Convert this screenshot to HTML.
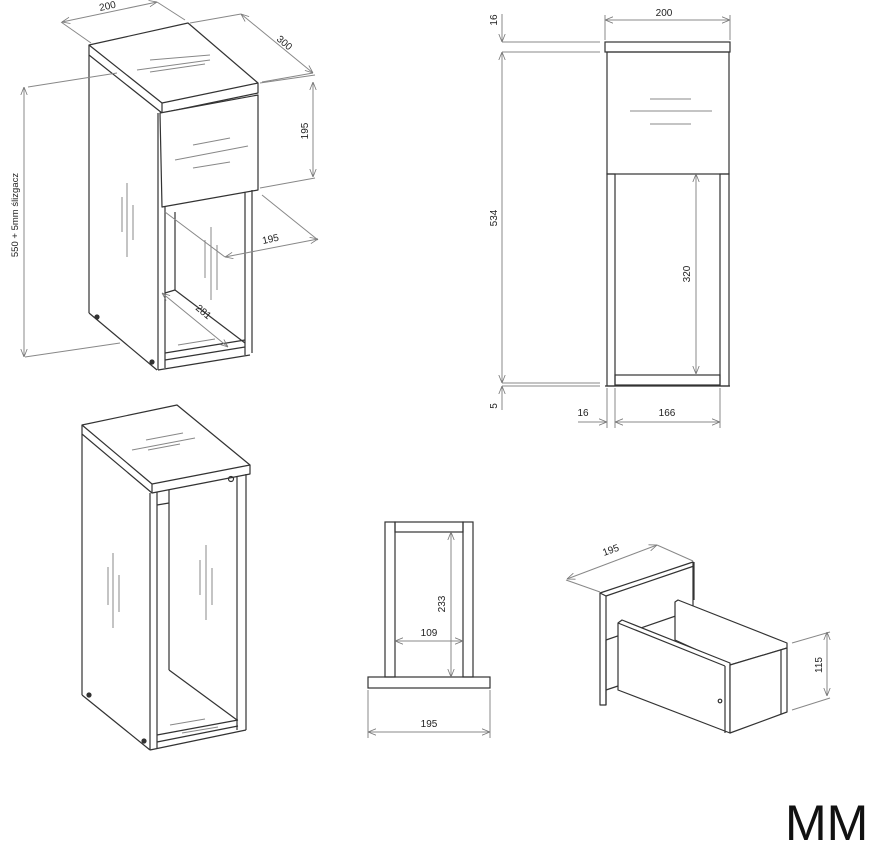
<!DOCTYPE html>
<html><head><meta charset="utf-8"><style>
html,body{margin:0;padding:0;background:#fff;}
svg{display:block}
text{font-family:"Liberation Sans","DejaVu Sans",sans-serif;font-size:10px;fill:#222}
</style></head><body>
<svg width="882" height="855" viewBox="0 0 882 855" xmlns="http://www.w3.org/2000/svg">
<defs>
<marker id="a" viewBox="0 0 10 10" refX="10" refY="5" markerWidth="8" markerHeight="8" orient="auto-start-reverse" markerUnits="userSpaceOnUse"><path d="M0,1 L10,5 L0,9" fill="none" stroke="#777" stroke-width="1"/></marker>
</defs>
<g fill="none" stroke="#333" stroke-width="1.2" stroke-linejoin="round">
<!-- ===== Top-left iso ===== -->
<polygon points="89,45 188,23 258,83 162,103" fill="#fff"/>
<polyline points="89,45 89,55 162,113 258,93 258,83"/>
<line x1="162" y1="103" x2="162" y2="113"/>
<polygon points="160,113 258,95 258,190 162,207" fill="#fff"/>
<line x1="89" y1="55" x2="89" y2="313"/>
<line x1="89" y1="313" x2="157" y2="370"/>
<line x1="158" y1="113" x2="158" y2="370"/>
<line x1="165" y1="207" x2="165" y2="368"/>
<line x1="158" y1="370" x2="250" y2="355"/>
<line x1="165" y1="360" x2="245" y2="347"/>
<line x1="165" y1="353" x2="245" y2="340"/>
<line x1="245" y1="192" x2="245" y2="355"/>
<line x1="252" y1="190" x2="252" y2="353"/>
<line x1="175" y1="212" x2="175" y2="290"/>
<line x1="175" y1="290" x2="245" y2="343"/>
<line x1="165" y1="293" x2="175" y2="290"/>
<circle cx="97" cy="317" r="2" fill="#333"/>
<circle cx="152" cy="362" r="2" fill="#333"/>
</g>
<g stroke="#888" stroke-width="1" fill="none">
<line x1="150" y1="60" x2="210" y2="55"/><line x1="137" y1="70" x2="210" y2="60"/><line x1="150" y1="72" x2="205" y2="64"/>
<line x1="193" y1="145" x2="230" y2="138"/><line x1="175" y1="160" x2="248" y2="146"/><line x1="193" y1="168" x2="230" y2="162"/>
<line x1="127" y1="183" x2="127" y2="257"/><line x1="122" y1="197" x2="122" y2="232"/><line x1="133" y1="205" x2="133" y2="240"/>
<line x1="211" y1="227" x2="211" y2="300"/><line x1="205" y1="240" x2="205" y2="278"/><line x1="217" y1="245" x2="217" y2="290"/>
<line x1="178" y1="345" x2="215" y2="339"/>
<!-- dims -->
<line x1="61" y1="22" x2="91" y2="43"/><line x1="157" y1="2" x2="185" y2="20"/>
<line x1="62" y1="22" x2="157" y2="2" marker-start="url(#a)" marker-end="url(#a)"/>
<line x1="190" y1="23" x2="241" y2="14"/><line x1="262" y1="82" x2="313" y2="73"/>
<line x1="241" y1="14" x2="313" y2="73" marker-start="url(#a)" marker-end="url(#a)"/>
<line x1="260" y1="83" x2="315" y2="75"/><line x1="260" y1="188" x2="315" y2="178"/>
<line x1="313" y1="82" x2="313" y2="177" marker-start="url(#a)" marker-end="url(#a)"/>
<line x1="262" y1="195" x2="318" y2="240"/><line x1="165" y1="212" x2="225" y2="257"/>
<line x1="225" y1="257" x2="318" y2="239" marker-start="url(#a)" marker-end="url(#a)"/>
<line x1="162" y1="293" x2="228" y2="347" marker-start="url(#a)" marker-end="url(#a)"/>
<line x1="28" y1="87" x2="117" y2="73"/><line x1="25" y1="357" x2="120" y2="343"/>
<line x1="24" y1="87" x2="24" y2="357" marker-start="url(#a)" marker-end="url(#a)"/>
</g>
<text x="100" y="11" transform="rotate(-12 100 11)">200</text>
<text x="276" y="40" transform="rotate(40 276 40)">300</text>
<text x="308" y="131" transform="rotate(-90 308 131)" text-anchor="middle">195</text>
<text x="263" y="244" transform="rotate(-12 263 244)">195</text>
<text x="195" y="309" transform="rotate(40 195 309)">281</text>
<text x="18" y="215" transform="rotate(-90 18 215)" text-anchor="middle" style="font-size:9.5px">550 + 5mm ślizgacz</text>

<!-- ===== Top-right front ===== -->
<g fill="none" stroke="#333" stroke-width="1.2">
<rect x="605" y="42" width="125" height="10" fill="#fff"/>
<rect x="607" y="52" width="122" height="122"/>
<rect x="607" y="174" width="8" height="212"/>
<rect x="720" y="174" width="9" height="212"/>
<rect x="615" y="375" width="105" height="10"/>
<line x1="605" y1="386" x2="730" y2="386"/>
</g>
<g stroke="#888" stroke-width="1" fill="none">
<line x1="650" y1="99" x2="691" y2="99"/><line x1="630" y1="111" x2="712" y2="111"/><line x1="650" y1="124" x2="691" y2="124"/>
<line x1="605" y1="20" x2="730" y2="20" marker-start="url(#a)" marker-end="url(#a)"/>
<line x1="605" y1="15" x2="605" y2="40"/><line x1="730" y1="15" x2="730" y2="40"/>
<line x1="502" y1="42" x2="600" y2="42"/><line x1="502" y1="52" x2="600" y2="52"/>
<line x1="502" y1="383" x2="600" y2="383"/><line x1="502" y1="386" x2="600" y2="386"/>
<line x1="502" y1="14" x2="502" y2="42" marker-end="url(#a)"/>
<line x1="502" y1="52" x2="502" y2="383" marker-start="url(#a)" marker-end="url(#a)"/>
<line x1="502" y1="410" x2="502" y2="386" marker-end="url(#a)"/>
<line x1="696" y1="174" x2="696" y2="374" marker-start="url(#a)" marker-end="url(#a)"/>
<line x1="607" y1="388" x2="607" y2="428"/><line x1="615" y1="388" x2="615" y2="428"/><line x1="720" y1="388" x2="720" y2="428"/>
<line x1="578" y1="422" x2="607" y2="422" marker-end="url(#a)"/>
<line x1="615" y1="422" x2="720" y2="422" marker-start="url(#a)" marker-end="url(#a)"/>
</g>
<text x="664" y="16" text-anchor="middle">200</text>
<text x="497" y="20" transform="rotate(-90 497 20)" text-anchor="middle">16</text>
<text x="497" y="218" transform="rotate(-90 497 218)" text-anchor="middle">534</text>
<text x="497" y="406" transform="rotate(-90 497 406)" text-anchor="middle">5</text>
<text x="690" y="274" transform="rotate(-90 690 274)" text-anchor="middle">320</text>
<text x="583" y="416" text-anchor="middle">16</text>
<text x="667" y="416" text-anchor="middle">166</text>

<!-- ===== Bottom-left iso ===== -->
<g fill="none" stroke="#333" stroke-width="1.2" stroke-linejoin="round">
<polygon points="82,425 177,405 250,465 152,484" fill="#fff"/>
<polyline points="82,425 82,434 152,493 250,474 250,465"/>
<line x1="152" y1="484" x2="152" y2="493"/>
<line x1="82" y1="434" x2="82" y2="695"/>
<line x1="82" y1="695" x2="150" y2="750"/>
<line x1="150" y1="493" x2="150" y2="750"/>
<line x1="157" y1="492" x2="157" y2="748"/>
<line x1="150" y1="750" x2="246" y2="730"/>
<line x1="157" y1="742" x2="238" y2="726"/>
<line x1="157" y1="735" x2="238" y2="720"/>
<line x1="237" y1="476" x2="237" y2="730"/>
<line x1="246" y1="474" x2="246" y2="730"/>
<line x1="169" y1="490" x2="169" y2="670"/>
<line x1="169" y1="670" x2="237" y2="720"/>
<line x1="157" y1="505" x2="169" y2="503"/>
<circle cx="89" cy="695" r="2" fill="#333"/>
<circle cx="144" cy="741" r="2" fill="#333"/>
<circle cx="231" cy="479" r="2.5"/>
</g>
<g stroke="#888" stroke-width="1" fill="none">
<line x1="146" y1="440" x2="183" y2="433"/><line x1="132" y1="450" x2="195" y2="438"/><line x1="148" y1="450" x2="180" y2="444"/>
<line x1="113" y1="553" x2="113" y2="628"/><line x1="108" y1="567" x2="108" y2="605"/><line x1="119" y1="575" x2="119" y2="612"/>
<line x1="206" y1="545" x2="206" y2="620"/><line x1="200" y1="560" x2="200" y2="595"/><line x1="212" y1="568" x2="212" y2="605"/>
<line x1="170" y1="725" x2="205" y2="719"/><line x1="182" y1="733" x2="218" y2="727"/>
</g>

<!-- ===== Middle front ===== -->
<g fill="none" stroke="#333" stroke-width="1.2">
<rect x="385" y="522" width="10" height="155"/>
<rect x="463" y="522" width="10" height="155"/>
<rect x="395" y="522" width="68" height="10"/>
<rect x="368" y="677" width="122" height="11"/>
</g>
<g stroke="#888" stroke-width="1" fill="none">
<line x1="451" y1="532" x2="451" y2="677" marker-start="url(#a)" marker-end="url(#a)"/>
<line x1="395" y1="641" x2="463" y2="641" marker-start="url(#a)" marker-end="url(#a)"/>
<line x1="368" y1="690" x2="368" y2="738"/><line x1="490" y1="690" x2="490" y2="738"/>
<line x1="368" y1="732" x2="490" y2="732" marker-start="url(#a)" marker-end="url(#a)"/>
</g>
<text x="445" y="604" transform="rotate(-90 445 604)" text-anchor="middle">233</text>
<text x="429" y="636" text-anchor="middle">109</text>
<text x="429" y="727" text-anchor="middle">195</text>

<!-- ===== Drawer iso ===== -->
<g fill="none" stroke="#333" stroke-width="1.2" stroke-linejoin="round">
<polygon points="600,593 693,562 693,610 606,640 606,705 600,705" fill="#fff"/>
<line x1="600" y1="593" x2="606" y2="596"/>
<line x1="606" y1="596" x2="694" y2="566"/>
<line x1="606" y1="596" x2="606" y2="705"/>
<line x1="694" y1="562" x2="694" y2="600"/>
<polygon points="675,602 678,600 787,643 787,648 730,665 675,640" fill="#fff"/>
<polygon points="618,623 622,620 730,663 730,733 618,690" fill="#fff"/>
<line x1="618" y1="623" x2="725" y2="666"/>
<line x1="725" y1="666" x2="725" y2="733"/>
<polygon points="730,665 787,648 787,712 730,733" fill="#fff"/>
<line x1="781" y1="650" x2="781" y2="714"/>
<line x1="606" y1="690" x2="618" y2="686"/>
<circle cx="720" cy="701" r="1.8"/>
</g>
<g stroke="#888" stroke-width="1" fill="none">
<line x1="566" y1="580" x2="600" y2="592"/><line x1="657" y1="545" x2="693" y2="561"/>
<line x1="567" y1="579" x2="657" y2="545" marker-start="url(#a)" marker-end="url(#a)"/>
<line x1="792" y1="643" x2="830" y2="632"/><line x1="792" y1="710" x2="830" y2="698"/>
<line x1="827" y1="632" x2="827" y2="696" marker-start="url(#a)" marker-end="url(#a)"/>
</g>
<text x="604" y="556" transform="rotate(-20 604 556)">195</text>
<text x="822" y="665" transform="rotate(-90 822 665)" text-anchor="middle">115</text>

<text x="785" y="840" style="font-size:50px;fill:#111">MM</text>
</svg>
</body></html>
